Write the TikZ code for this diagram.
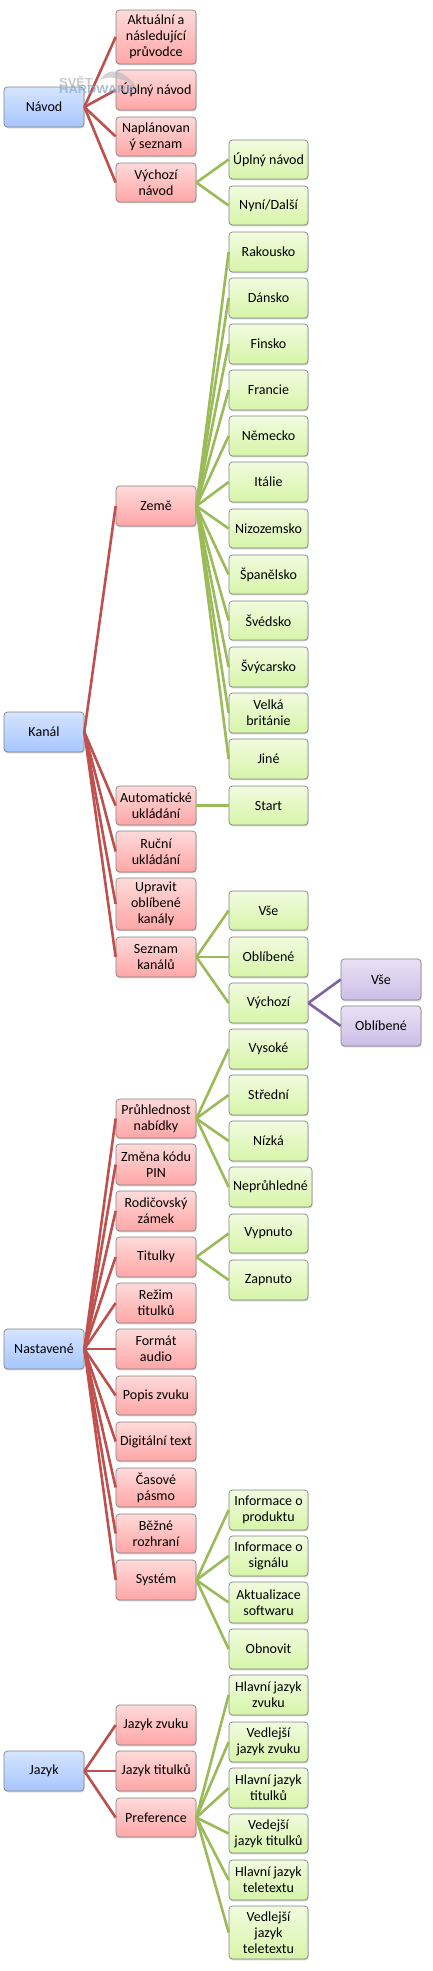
\documentclass[tikz,border=0pt]{standalone}
\usepackage{fontspec}
\setmainfont{Carlito}
\newfontfamily\wmfont{Liberation Sans}
\usetikzlibrary{shadows}
\definecolor{redln}{HTML}{C0504D}
\definecolor{grnln}{HTML}{9BBB59}
\definecolor{purln}{HTML}{7F62A1}
\definecolor{blT}{HTML}{D6E4FF}
\definecolor{blB}{HTML}{A6C6FF}
\definecolor{reT}{HTML}{FFDADA}
\definecolor{reB}{HTML}{FFA6A6}
\definecolor{grT}{HTML}{F1FBDF}
\definecolor{grB}{HTML}{D6F5A8}
\definecolor{puT}{HTML}{E9E2F3}
\definecolor{puB}{HTML}{CDBDE8}
\definecolor{wmgray}{HTML}{B4B8BC}
\definecolor{wmblue}{HTML}{8FA9C8}
\tikzset{
  boxbase/.style={draw=black!48,line width=.7pt,rounded corners=3.5pt,inner sep=0pt,align=center,
    font=\fontsize{14}{16}\selectfont,text=black,
    drop shadow={opacity=.35,shadow xshift=.6pt,shadow yshift=-1.4pt}},
  bluebox/.style={boxbase,top color=blT,bottom color=blB},
  redbox/.style={boxbase,top color=reT,bottom color=reB},
  greenbox/.style={boxbase,top color=grT,bottom color=grB},
  purplebox/.style={boxbase,top color=puT,bottom color=puB},
  link/.style={line width=2.6pt},
  redlink/.style={link,draw=redln},
  greenlink/.style={link,draw=grnln},
  purplelink/.style={link,draw=purln},
  wmtext/.style={anchor=west,inner sep=0pt,font=\wmfont\bfseries\fontsize{11.5}{12}\selectfont,xscale=1.12},
}
% name, style, left, right, top, bottom, text
\newcommand{\bx}[7]{%
  \pgfmathsetmacro{\cxv}{(#3+#4)/2}\pgfmathsetmacro{\cyv}{(#5+#6)/2}%
  \pgfmathsetmacro{\wv}{#4-#3}\pgfmathsetmacro{\hv}{#6-#5}%
  \node[#2,minimum width=\wv pt,minimum height=\hv pt] (#1) at (\cxv,\cyv) {#7};}
\newcommand{\la}[4]{\bx{#1}{redbox}{116}{196}{#2}{#3}{#4}}
\newcommand{\lb}[4]{\bx{#1}{greenbox}{229}{308}{#2}{#3}{#4}}
\newcommand{\lc}[4]{\bx{#1}{purplebox}{341}{421}{#2}{#3}{#4}}
\begin{document}
\begin{tikzpicture}[x=1pt,y=-1pt]
\useasboundingbox[fill=white] (0,0) rectangle (433,1971);
% level 0
\bx{navod}{bluebox}{4}{84}{87}{127}{Návod}
\bx{kanal}{bluebox}{4}{84}{712}{752}{Kanál}
\bx{nast}{bluebox}{4}{84}{1329}{1369}{Nastavené}
\bx{jazyk}{bluebox}{4}{84}{1751}{1791}{Jazyk}
% level 1
\la{aa}{10}{64}{Aktuální a\\následující\\průvodce}
\la{ab}{70}{110}{Úplný návod}
\la{ac}{117}{156}{Naplánovan\\ý seznam}
\la{ad}{163}{202}{Výchozí\\návod}
\la{ba}{486}{526}{Země}
\la{bb}{786}{825}{Automatické\\ukládání}
\la{bc}{831}{872}{Ruční\\ukládání}
\la{bd}{878}{930}{Upravit\\oblíbené\\kanály}
\la{be}{937}{977}{Seznam\\kanálů}
\la{ca}{1099}{1138}{Průhlednost\\nabídky}
\la{cb}{1144}{1185}{Změna kódu\\PIN}
\la{cc}{1191}{1231}{Rodičovský\\zámek}
\la{cd}{1237}{1277}{Titulky}
\la{ce}{1283}{1323}{Režim\\titulků}
\la{cf}{1329}{1369}{Formát\\audio}
\la{cg}{1376}{1415}{Popis zvuku}
\la{ch}{1422}{1461}{Digitální text}
\la{ci}{1468}{1507}{Časové\\pásmo}
\la{cj}{1514}{1553}{Běžné\\rozhraní}
\la{ck}{1560}{1600}{Systém}
\la{da}{1705}{1745}{Jazyk zvuku}
\la{db}{1751}{1791}{Jazyk titulků}
\la{dc}{1798}{1837}{Preference}
% level 2
\lb{g1}{140}{179}{Úplný návod}
\lb{g2}{186}{225}{Nyní/Další}
\lb{z1}{232}{272}{Rakousko}
\lb{z2}{278}{318}{Dánsko}
\lb{z3}{324}{364}{Finsko}
\lb{z4}{370}{410}{Francie}
\lb{z5}{416}{456}{Německo}
\lb{z6}{462}{502}{Itálie}
\lb{z7}{509}{548}{Nizozemsko}
\lb{z8}{555}{594}{Španělsko}
\lb{z9}{601}{640}{Švédsko}
\lb{z10}{647}{687}{Švýcarsko}
\lb{z11}{693}{733}{Velká\\británie}
\lb{z12}{739}{779}{Jiné}
\lb{st}{786}{825}{Start}
\lb{s1}{891}{930}{Vše}
\lb{s2}{937}{977}{Oblíbené}
\lb{s3}{983}{1023}{Výchozí}
\lb{p1}{1029}{1069}{Vysoké}
\lb{p2}{1075}{1115}{Střední}
\lb{p3}{1121}{1161}{Nízká}
\bx{p4}{greenbox}{229}{312}{1167}{1207}{Neprůhledné}
\lb{t1}{1214}{1253}{Vypnuto}
\lb{t2}{1260}{1300}{Zapnuto}
\lb{y1}{1490}{1530}{Informace o\\produktu}
\lb{y2}{1536}{1576}{Informace o\\signálu}
\lb{y3}{1582}{1623}{Aktualizace\\softwaru}
\lb{y4}{1629}{1669}{Obnovit}
\lb{j1}{1675}{1715}{Hlavní jazyk\\zvuku}
\lb{j2}{1722}{1762}{Vedlejší\\jazyk zvuku}
\lb{j3}{1768}{1808}{Hlavní jazyk\\titulků}
\lb{j4}{1814}{1853}{Vedejší\\jazyk titulků}
\lb{j5}{1860}{1900}{Hlavní jazyk\\teletextu}
\lb{j6}{1906}{1959}{Vedlejší\\jazyk\\teletextu}
% level 3
\lc{v1}{959}{1000}{Vše}
\lc{v2}{1006}{1046}{Oblíbené}
% connectors
\foreach \c in {aa,ab,ac,ad} \draw[redlink] (navod.east) -- (\c.west);
\foreach \c in {ba,bb,bc,bd,be} \draw[redlink] (kanal.east) -- (\c.west);
\foreach \c in {ca,cb,cc,cd,ce,cf,cg,ch,ci,cj,ck} \draw[redlink] (nast.east) -- (\c.west);
\foreach \c in {da,db,dc} \draw[redlink] (jazyk.east) -- (\c.west);
\foreach \c in {g1,g2} \draw[greenlink] (ad.east) -- (\c.west);
\foreach \c in {z1,z2,z3,z4,z5,z6,z7,z8,z9,z10,z11,z12} \draw[greenlink] (ba.east) -- (\c.west);
\draw[greenlink] (bb.east) -- (st.west);
\foreach \c in {s1,s2,s3} \draw[greenlink] (be.east) -- (\c.west);
\foreach \c in {p1,p2,p3,p4} \draw[greenlink] (ca.east) -- (\c.west);
\foreach \c in {t1,t2} \draw[greenlink] (cd.east) -- (\c.west);
\foreach \c in {y1,y2,y3,y4} \draw[greenlink] (ck.east) -- (\c.west);
\foreach \c in {j1,j2,j3,j4,j5,j6} \draw[greenlink] (dc.east) -- (\c.west);
\foreach \c in {v1,v2} \draw[purplelink] (s3.east) -- (\c.west);
% watermark
\fill[wmgray,opacity=.6] (100,80) .. controls (106,68) and (124,66) .. (138,90) .. controls (128,80) and (112,74) .. (100,80) -- cycle;
\node[wmtext,text=wmgray,opacity=.75] (wm1) at (59,81.5) {SVĚT};
\node[wmtext,text=wmblue,opacity=.75] (wm2) at (59,90) {HARDWARE};
\end{tikzpicture}
\end{document}
